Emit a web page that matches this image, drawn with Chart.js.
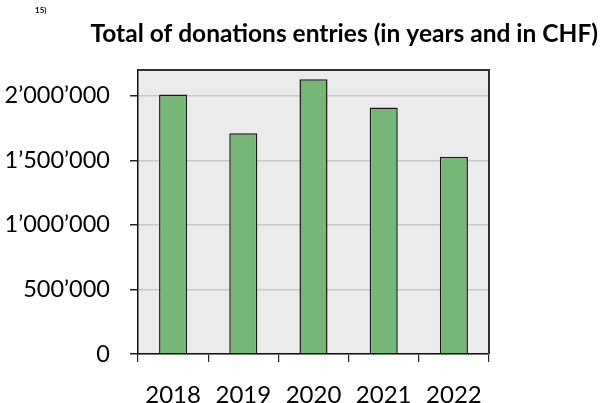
<!DOCTYPE html>
<html>
<head>
<meta charset="utf-8">
<script src="https://cdn.jsdelivr.net/npm/chart.js@4/dist/chart.umd.min.js"></script>
<style>
  html,body{margin:0;padding:0;background:#fff;}
  #wrap{width:601px;height:403px;position:relative;}
</style>
</head>
<body>
<div id="wrap"><canvas id="chart" width="601" height="403"></canvas></div>
<script>
// ================= DATA =================
const years = ["2018", "2019", "2020", "2021", "2022"];
const donations = [2010000, 1710000, 2128000, 1910000, 1528000];
const yTicks = [0, 500000, 1000000, 1500000, 2000000];
const titleText = "Total of donations entries (in years and in CHF)";
const noteText = "15)";

function fmt(v){ return String(v).replace(/\B(?=(\d{3})+(?!\d))/g, "\u2019"); }

// plot background + frame + title
const framePlugin = {
  id: "frame",
  beforeDraw(chart){
    const {ctx, chartArea:a} = chart;
    ctx.save();
    ctx.fillStyle = "#ebebeb";
    ctx.fillRect(a.left, a.top, a.right-a.left, a.bottom-a.top);
    ctx.restore();
  },
  afterDraw(chart){
    const {ctx, chartArea:a} = chart;
    ctx.save();
    ctx.strokeStyle = "#333";
    ctx.lineWidth = 2;
    ctx.beginPath();
    ctx.moveTo(a.left, a.top); ctx.lineTo(a.right, a.top); ctx.lineTo(a.right, a.bottom);
    ctx.stroke();
    ctx.fillStyle = "#000";
    ctx.font = "bold 24.5px Lato";
    ctx.textAlign = "right"; ctx.textBaseline = "alphabetic";
    ctx.fillText(titleText, 598, 42);
    ctx.font = "bold 8px Lato";
    ctx.textAlign = "left";
    ctx.fillText(noteText, 35, 13);
    ctx.restore();
  }
};

new Chart(document.getElementById("chart"), {
  type: "bar",
  data: {
    labels: years,
    datasets: [{
      data: donations,
      backgroundColor: "#76b776",
      borderColor: "#1a1a1a",
      borderWidth: 1.5,
      barPercentage: 0.4,
      categoryPercentage: 1
    }]
  },
  options: {
    responsive: false,
    animation: false,
    layout: {padding: {top: 70, right: 112, left: 0, bottom: 0}},
    plugins: {legend: {display: false}, tooltip: {enabled: false}},
    scales: {
      x: {
        grid: {drawOnChartArea: false, tickLength: 8, tickColor: "#222", lineWidth: 1.2},
        border: {color: "#111", width: 1.5},
        ticks: {color: "#000", font: {family: "Lato", size: 24}, padding: 19},
        afterFit(s){ s.height = 49; }
      },
      y: {
        min: 0, max: 2200000,
        grid: {color: "#c8c8c8", lineWidth: 1.5, tickLength: 8, tickColor: "#222"},
        border: {color: "#111", width: 1.5},
        ticks: {
          color: "#000", font: {family: "Lato", size: 23.5}, padding: 20,
          stepSize: 500000,
          callback: v => fmt(v)
        },
        afterBuildTicks(s){ s.ticks = yTicks.map(v => ({value: v})); },
        afterFit(s){ s.width = 138; }
      }
    }
  },
  plugins: [framePlugin]
});
</script>
</body>
</html>
